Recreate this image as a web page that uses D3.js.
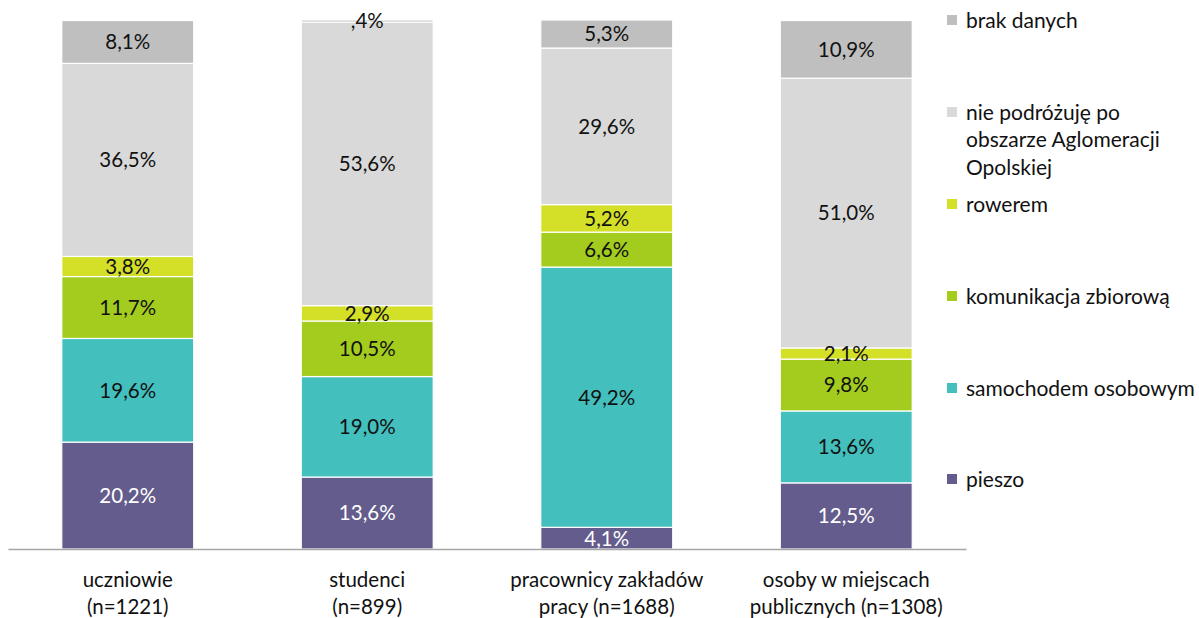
<!DOCTYPE html>
<html>
<head>
<meta charset="utf-8">
<script src="https://cdn.jsdelivr.net/npm/d3@7"></script>
<style>
  html, body { margin: 0; padding: 0; background: #fff; }
  svg { display: block; font-family: "Lato", "Open Sans", sans-serif; }
</style>
</head>
<body>
<svg id="chart" width="1199" height="618"></svg>
<script>
// ---- data ----
const categories = [
  ["uczniowie", "(n=1221)"],
  ["studenci", "(n=899)"],
  ["pracownicy zakładów", "pracy (n=1688)"],
  ["osoby w miejscach", "publicznych (n=1308)"]
];
const seriesNames = ["pieszo", "samochodem osobowym", "komunikacja zbiorową", "rowerem", "nie podróżuję po obszarze Aglomeracji Opolskiej", "brak danych"];
const pieszo      = [20.2, 13.6, 4.1, 12.5];
const samochodem  = [19.6, 19.0, 49.2, 13.6];
const komunikacja = [11.7, 10.5, 6.6, 9.8];
const rowerem     = [3.8, 2.9, 5.2, 2.1];
const niePodrozuje = [36.5, 53.6, 29.6, 51.0];
const brakDanych  = [8.1, 0.4, 5.3, 10.9];
const seriesValues = [pieszo, samochodem, komunikacja, rowerem, niePodrozuje, brakDanych];
const legendLines = [
  ["pieszo"],
  ["samochodem osobowym"],
  ["komunikacja zbiorową"],
  ["rowerem"],
  ["nie podróżuję po", "obszarze Aglomeracji", "Opolskiej"],
  ["brak danych"]
];

// ---- styles ----
const colors = ["#635c8c", "#43bfbd", "#a3cc1e", "#d4df27", "#d9d9d9", "#bfbfbf"];
const labelColors = ["#ffffff", "#111111", "#111111", "#111111", "#111111", "#111111"];
const fs = 20.5;
const legendFs = 21;

const svg = d3.select("#chart");
const keys = categories.map(c => c.join(" "));

const x = d3.scaleBand().domain(keys).range([8, 966]).paddingInner(0.449).paddingOuter(0.2245);
const y = d3.scaleLinear().domain([0, 100]).range([549, 20]);

const table = keys.map((k, i) => {
  const row = { key: k };
  seriesNames.forEach((s, j) => row[s] = seriesValues[j][i]);
  return row;
});
const stacked = d3.stack().keys(seriesNames)(table);

const fmt = v => {
  const s = v.toFixed(1).replace(".", ",");
  return s.startsWith("0,") ? s.slice(1) + "%" : s + "%";
};

const layers = svg.append("g").selectAll("g").data(stacked).join("g")
  .attr("fill", (d, i) => colors[i]);

layers.selectAll("rect").data(d => d).join("rect")
  .attr("x", d => x(d.data.key))
  .attr("width", x.bandwidth())
  .attr("y", d => y(d[1]))
  .attr("height", d => y(d[0]) - y(d[1]))
  .attr("stroke", "#fff")
  .attr("stroke-width", 1.2);

stacked.forEach((layer, i) => {
  svg.append("g").selectAll("text").data(layer).join("text")
    .attr("x", d => x(d.data.key) + x.bandwidth() / 2)
    .attr("y", d => (y(d[0]) + y(d[1])) / 2)
    .attr("dy", "0.36em")
    .attr("text-anchor", "middle")
    .attr("font-size", fs)
    .attr("fill", labelColors[i])
    .text(d => fmt(d[1] - d[0]));
});

// axis
const xAxis = d3.axisBottom(x).tickSize(0).tickFormat("");
const axG = svg.append("g").attr("transform", "translate(0,549)").call(xAxis);
axG.select(".domain").attr("stroke", "#a6a6a6").attr("stroke-width", 1.6);

const catG = svg.append("g");
categories.forEach((c, i) => {
  const t = catG.append("text")
    .attr("x", x(keys[i]) + x.bandwidth() / 2)
    .attr("text-anchor", "middle")
    .attr("font-size", fs)
    .attr("fill", "#111");
  c.forEach((line, j) => {
    t.append("tspan").attr("x", x(keys[i]) + x.bandwidth() / 2)
      .attr("y", 580 + j * 27).attr("dy", "0.36em").text(line);
  });
});

// legend (top to bottom: reverse series order)
const legendY = [479, 388, 296, 204, 112, 20];
const lg = svg.append("g");
seriesNames.forEach((s, i) => {
  lg.append("rect").attr("x", 947).attr("y", legendY[i] - 5).attr("width", 10).attr("height", 10)
    .attr("fill", colors[i]);
  const t = lg.append("text").attr("font-size", legendFs).attr("fill", "#111");
  legendLines[i].forEach((line, j) => {
    t.append("tspan").attr("x", 966).attr("y", legendY[i] + j * 27.5).attr("dy", "0.36em").text(line);
  });
});
</script>
</body>
</html>
